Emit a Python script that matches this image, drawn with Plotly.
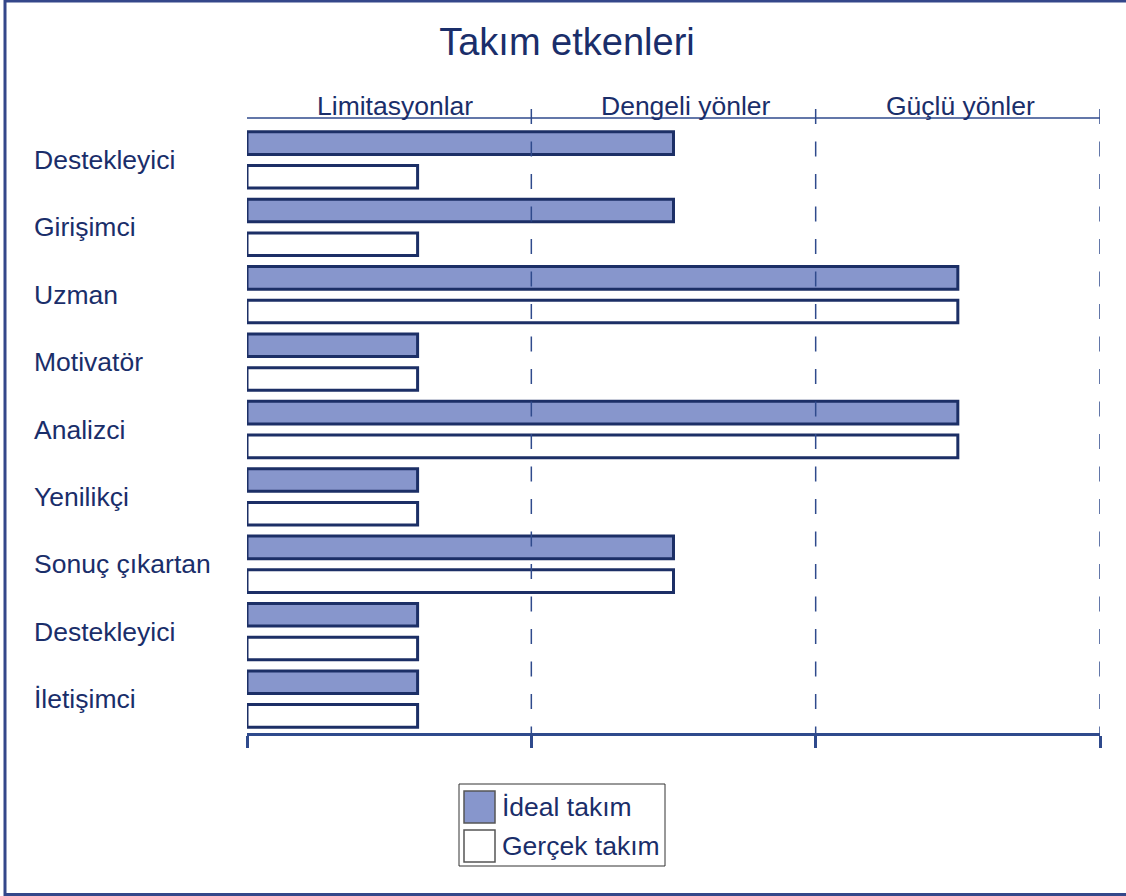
import plotly.graph_objects as go

W, H = 1126, 896
L, R, T, B = 247, 26, 118, 163

NAVY = "#1c2f66"
TEXT = "#1a2e6a"
AXIS = "#2f4a8c"
IDEAL_FILL = "#8796cc"
FONT = "Liberation Sans, Arial, sans-serif"

categories = ["Destekleyici", "Girişimci", "Uzman", "Motivatör", "Analizci",
              "Yenilikçi", "Sonuç çıkartan", "Destekleyici", "İletişimci"]
ideal = [1.5, 1.5, 2.5, 0.6, 2.5, 0.6, 1.5, 0.6, 0.6]
actual = [0.6, 0.6, 2.5, 0.6, 2.5, 0.6, 1.5, 0.6, 0.6]
zones = ["Limitasyonlar", "Dengeli yönler", "Güçlü yönler"]
series_names = ["İdeal takım", "Gerçek takım"]

idx = list(range(len(categories)))
pw, ph = W - L - R, H - T - B


def px(x):
    return (x - L) / pw


def py(y):
    return (H - B - y) / ph


fig = go.Figure()
fig.add_trace(go.Bar(x=ideal, y=idx, orientation="h", name=series_names[0],
                     marker=dict(color=IDEAL_FILL, line=dict(color=NAVY, width=3)),
                     showlegend=False))
fig.add_trace(go.Bar(x=actual, y=idx, orientation="h", name=series_names[1],
                     marker=dict(color="white", line=dict(color=NAVY, width=3)),
                     showlegend=False))

shapes = []
# outer frame (right edge falls outside the picture)
shapes.append(dict(type="rect", xref="paper", yref="paper", x0=px(5), x1=px(1140),
                   y0=py(894.5), y1=py(1), line=dict(color="#34478a", width=3)))
# top line
shapes.append(dict(type="line", xref="x", yref="paper", x0=0, x1=3, y0=1, y1=1,
                   line=dict(color=AXIS, width=1.5)))
# dashed zone dividers
for v in [1, 2, 3]:
    shapes.append(dict(type="line", xref="x", yref="paper", x0=v, x1=v,
                       y0=py(109), y1=0, line=dict(color=AXIS, width=1.5, dash="15px,17.5px")))

annotations = []
for i, c in enumerate(categories):
    annotations.append(dict(x=px(32), y=i, xref="paper", yref="y", text=c, showarrow=False,
                            xanchor="left", yanchor="middle",
                            font=dict(family=FONT, size=26.5, color=TEXT)))
zone_shift = [6, 12, 3]
for i, z in enumerate(zones):
    annotations.append(dict(x=i + 0.5, y=1, xref="x", yref="paper", text=z, showarrow=False,
                            xanchor="center", yanchor="bottom", yshift=-5, xshift=zone_shift[i],
                            font=dict(family=FONT, size=26.5, color=TEXT)))

# legend box
shapes.append(dict(type="rect", xref="paper", yref="paper", x0=px(459), x1=px(665),
                   y0=py(866), y1=py(784), line=dict(color="#333333", width=1)))
swatch_fill = [IDEAL_FILL, "white"]
for k, name in enumerate(series_names):
    top = 791 + k * 39
    shapes.append(dict(type="rect", xref="paper", yref="paper", x0=px(464), x1=px(495),
                       y0=py(top + 32), y1=py(top), fillcolor=swatch_fill[k],
                       line=dict(color="#555555", width=1.5)))
    annotations.append(dict(x=px(500), y=py(top + 16), xref="paper", yref="paper", text=name,
                            showarrow=False, xanchor="left", yanchor="middle",
                            font=dict(family=FONT, size=26.5, color=TEXT)))

fig.update_layout(
    width=W, height=H,
    margin=dict(l=L, r=R, t=T, b=B),
    paper_bgcolor="white", plot_bgcolor="white",
    title=dict(text="Takım etkenleri", x=(567 / W), xanchor="center", y=1 - 42 / H, yanchor="middle",
               font=dict(family=FONT, size=38, color=TEXT)),
    barmode="group", bargap=0, bargroupgap=0.33,
    xaxis=dict(range=[0, 3], showgrid=False, zeroline=False, showline=True, linecolor=AXIS,
               linewidth=3, ticks="outside", tickvals=[0, 1, 2, 3], ticklen=12, tickwidth=3,
               tickcolor=AXIS, showticklabels=False, fixedrange=True),
    yaxis=dict(range=[8 + 34 / 67.4, -(160 - 118) / 67.4], showgrid=False, zeroline=False,
               showline=False, showticklabels=False, fixedrange=True),
    shapes=shapes,
    annotations=annotations,
    showlegend=False,
)

fig.write_html("out.html", config={"displayModeBar": False},
               post_script="document.body.style.margin='0';document.body.style.overflow='hidden';")
